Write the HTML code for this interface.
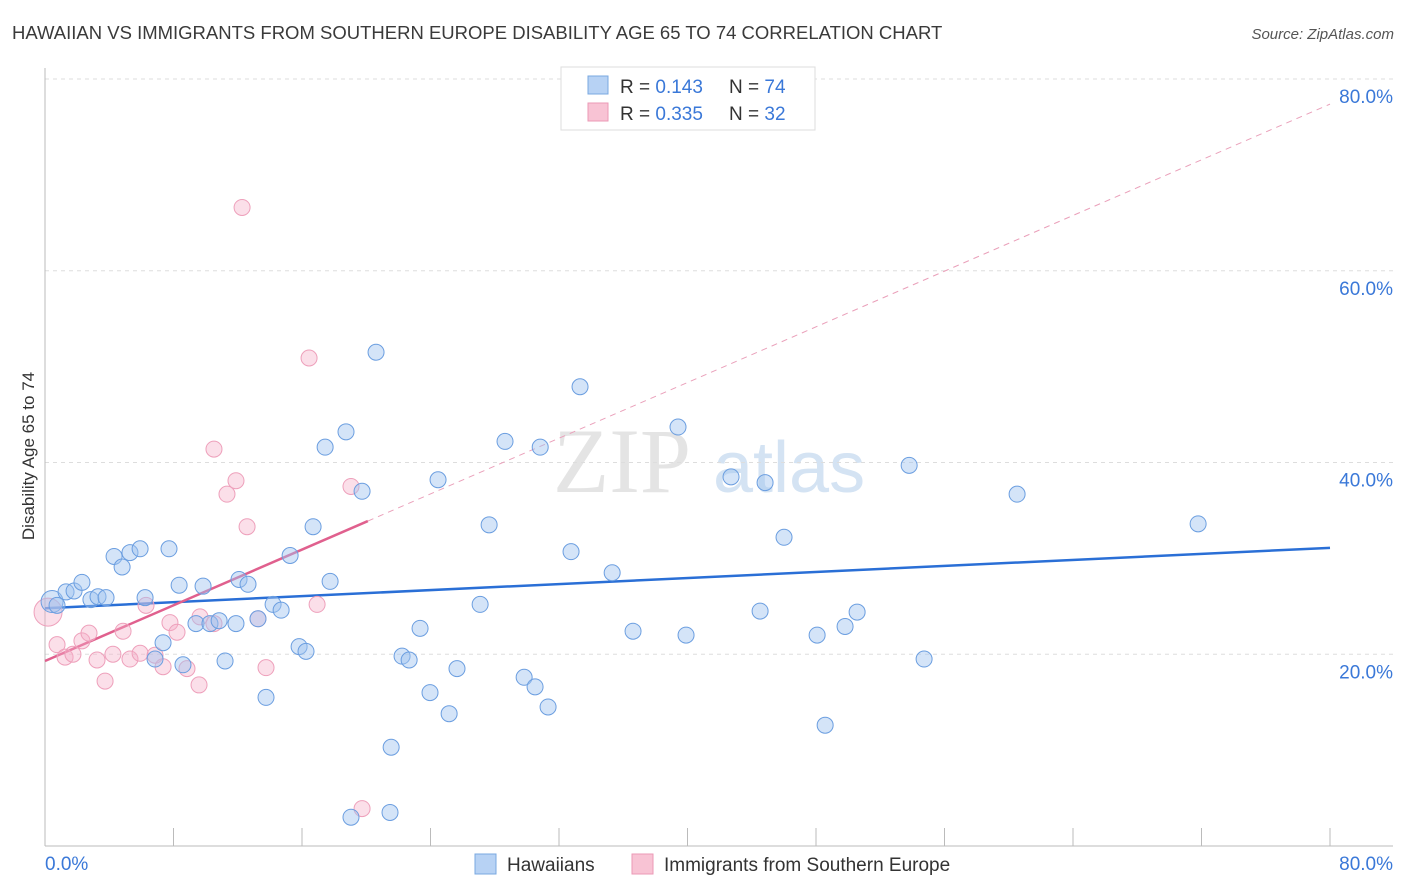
<!DOCTYPE html>
<html><head><meta charset="utf-8"><style>
body{margin:0;background:#fff;font-family:"Liberation Sans",sans-serif}
svg{display:block}
</style></head><body>
<svg id="chart" width="1406" height="892" xmlns="http://www.w3.org/2000/svg">
<text x="12" y="39" font-size="18.5" fill="#3a3a3a">HAWAIIAN VS IMMIGRANTS FROM SOUTHERN EUROPE DISABILITY AGE 65 TO 74 CORRELATION CHART</text>
<text x="1394" y="39" font-size="15" fill="#555" text-anchor="end" font-style="italic">Source: ZipAtlas.com</text>
<g>
<text x="553" y="492" font-size="92" fill="#e4e4e4" font-family="Liberation Serif,serif">ZIP</text>
<text x="713" y="492" font-size="72" fill="#d4e3f3">atlas</text>
</g>
<g id="grid"></g>
<g id="axes"></g>
<g id="lines"></g>
<g id="points"></g>
<text x="34" y="456" font-size="17" fill="#333" text-anchor="middle" transform="rotate(-90 34 456)">Disability Age 65 to 74</text>
<g>
<rect x="561" y="67" width="254" height="63" fill="#fff" stroke="#ddd"/>
<rect x="588" y="76" width="20" height="18" fill="#b7d2f4" stroke="#7aa8e0"/>
<rect x="588" y="103" width="20" height="18" fill="#f8c3d4" stroke="#eb9ab6"/>
<text x="620" y="93" font-size="19" fill="#333">R = <tspan fill="#3a78d8">0.143</tspan><tspan x="729">N = </tspan><tspan fill="#3a78d8">74</tspan></text>
<text x="620" y="120" font-size="19" fill="#333">R = <tspan fill="#3a78d8">0.335</tspan><tspan x="729">N = </tspan><tspan fill="#3a78d8">32</tspan></text>
</g>
<g>
<rect x="475" y="854" width="21" height="20" fill="#b7d2f4" stroke="#7aa8e0"/>
<text x="507" y="871" font-size="19" fill="#333">Hawaiians</text>
<rect x="632" y="854" width="21" height="20" fill="#f8c3d4" stroke="#eb9ab6"/>
<text x="664" y="871" font-size="19" fill="#333">Immigrants from Southern Europe</text>
</g>
</svg>
<script>
const blueX=[0.44,0.75,1.31,1.81,2.30,2.86,3.30,3.80,4.30,4.80,5.29,5.92,6.23,6.85,7.35,7.72,8.35,8.59,9.40,9.84,10.27,10.84,11.21,11.89,12.08,12.64,13.26,13.76,14.20,14.70,15.26,15.82,16.25,16.69,17.44,17.75,18.74,19.05,19.74,20.61,21.48,21.55,22.23,22.67,23.35,23.97,24.47,25.16,25.65,27.09,27.65,28.64,29.83,30.51,30.83,31.32,32.75,33.31,35.31,36.61,39.41,39.91,42.71,44.52,44.83,46.01,48.07,48.57,49.81,50.56,53.80,54.73,60.52,71.79];
const blueY=[25.5,25.1,26.5,26.6,27.5,25.7,26.0,25.9,30.2,29.1,30.6,31.0,25.9,19.5,21.2,31.0,27.2,18.9,23.2,27.1,23.2,23.5,19.3,23.2,27.8,27.3,23.7,15.5,25.2,24.6,30.3,20.8,20.3,33.3,41.6,27.6,43.2,3.0,37.0,51.5,3.5,10.3,19.8,19.4,22.7,16.0,38.2,13.8,18.5,25.2,33.5,42.2,17.6,16.6,41.6,14.5,30.7,47.9,28.5,22.4,43.7,22.0,38.5,24.5,37.9,32.2,22.0,12.6,22.9,24.4,39.7,19.5,36.7,33.6];
const pinkX=[0.19,0.75,1.25,1.74,2.30,2.74,3.24,3.74,4.23,4.86,5.29,5.92,6.29,6.85,7.35,7.78,8.22,8.84,9.59,9.65,10.52,10.52,11.33,11.89,12.27,12.58,13.26,13.76,16.44,16.94,19.05,19.74];
const pinkY=[24.4,21.0,19.7,20.0,21.4,22.2,19.4,17.2,20.0,22.4,19.5,20.1,25.1,19.9,18.7,23.3,22.3,18.5,16.8,23.9,41.4,23.2,36.7,38.1,66.6,33.3,23.7,18.6,50.9,25.2,37.5,3.9];
const blueTrend=[24.8,31.1];
const pinkTrend=[19.3,0.726];
const yTicks=[20,40,60,80];
const yTickLabels=["20.0%","40.0%","60.0%","80.0%"];
const xTicks=[0,8,16,24,32,40,48,56,64,72,80];
const NS="http://www.w3.org/2000/svg";
const sx=v=>45+v*1285/80, sy=v=>846-v*(846-79)/80;
function mk(p,t,a){const e=document.createElementNS(NS,t);for(const k in a)e.setAttribute(k,a[k]);document.getElementById(p).appendChild(e);return e;}
yTicks.forEach((v,i)=>{
 let g=mk('grid','line',{x1:45,x2:1393,y1:sy(v),y2:sy(v),stroke:'#ddd','stroke-dasharray':'4,4'});
 
 
 let t=mk('grid','text',{x:1393,y:sy(v)+24,'font-size':19,fill:'#3a78d8','text-anchor':'end'});t.textContent=yTickLabels[i];
 
 
});
let a1=mk('axes','line',{x1:45,x2:45,y1:68,y2:846,stroke:'#bbb'});


let a2=mk('axes','line',{x1:45,x2:1393,y1:846,y2:846,stroke:'#bbb'});


xTicks.forEach(v=>{let t=mk('axes','line',{x1:sx(v),x2:sx(v),y1:828,y2:846,stroke:'#bbb'});
 
 });
let l0=mk('axes','text',{x:45,y:870,'font-size':19,fill:'#3a78d8'});l0.textContent='0.0%';


let l1=mk('axes','text',{x:1393,y:870,'font-size':19,fill:'#3a78d8','text-anchor':'end'});l1.textContent='80.0%';


pinkX.forEach((x,i)=>{let c=mk('points','circle',{cx:sx(x),cy:sy(pinkY[i]),r:i==0?14:8,fill:'rgba(245,175,200,0.4)',stroke:'#eea0bb','stroke-width':1});
 
 });
blueX.forEach((x,i)=>{let c=mk('points','circle',{cx:sx(x),cy:sy(blueY[i]),r:i==0?11:8,fill:'rgba(160,195,240,0.45)',stroke:'#6b9ee0','stroke-width':1});
 
 });
let bl=mk('lines','line',{x1:sx(0),y1:sy(blueTrend[0]),x2:sx(80),y2:sy(blueTrend[1]),stroke:'#2a6fd6','stroke-width':2.5});


const pe=20.1;
let pl=mk('lines','line',{x1:sx(0),y1:sy(pinkTrend[0]),x2:sx(pe),y2:sy(pinkTrend[0]+pinkTrend[1]*pe),stroke:'#e0608e','stroke-width':2.5});


let pd=mk('lines','line',{x1:sx(pe),y1:sy(pinkTrend[0]+pinkTrend[1]*pe),x2:sx(80),y2:sy(pinkTrend[0]+pinkTrend[1]*80),stroke:'#eaa0ba','stroke-width':1,'stroke-dasharray':'6,5'});


</script>
</body></html>
